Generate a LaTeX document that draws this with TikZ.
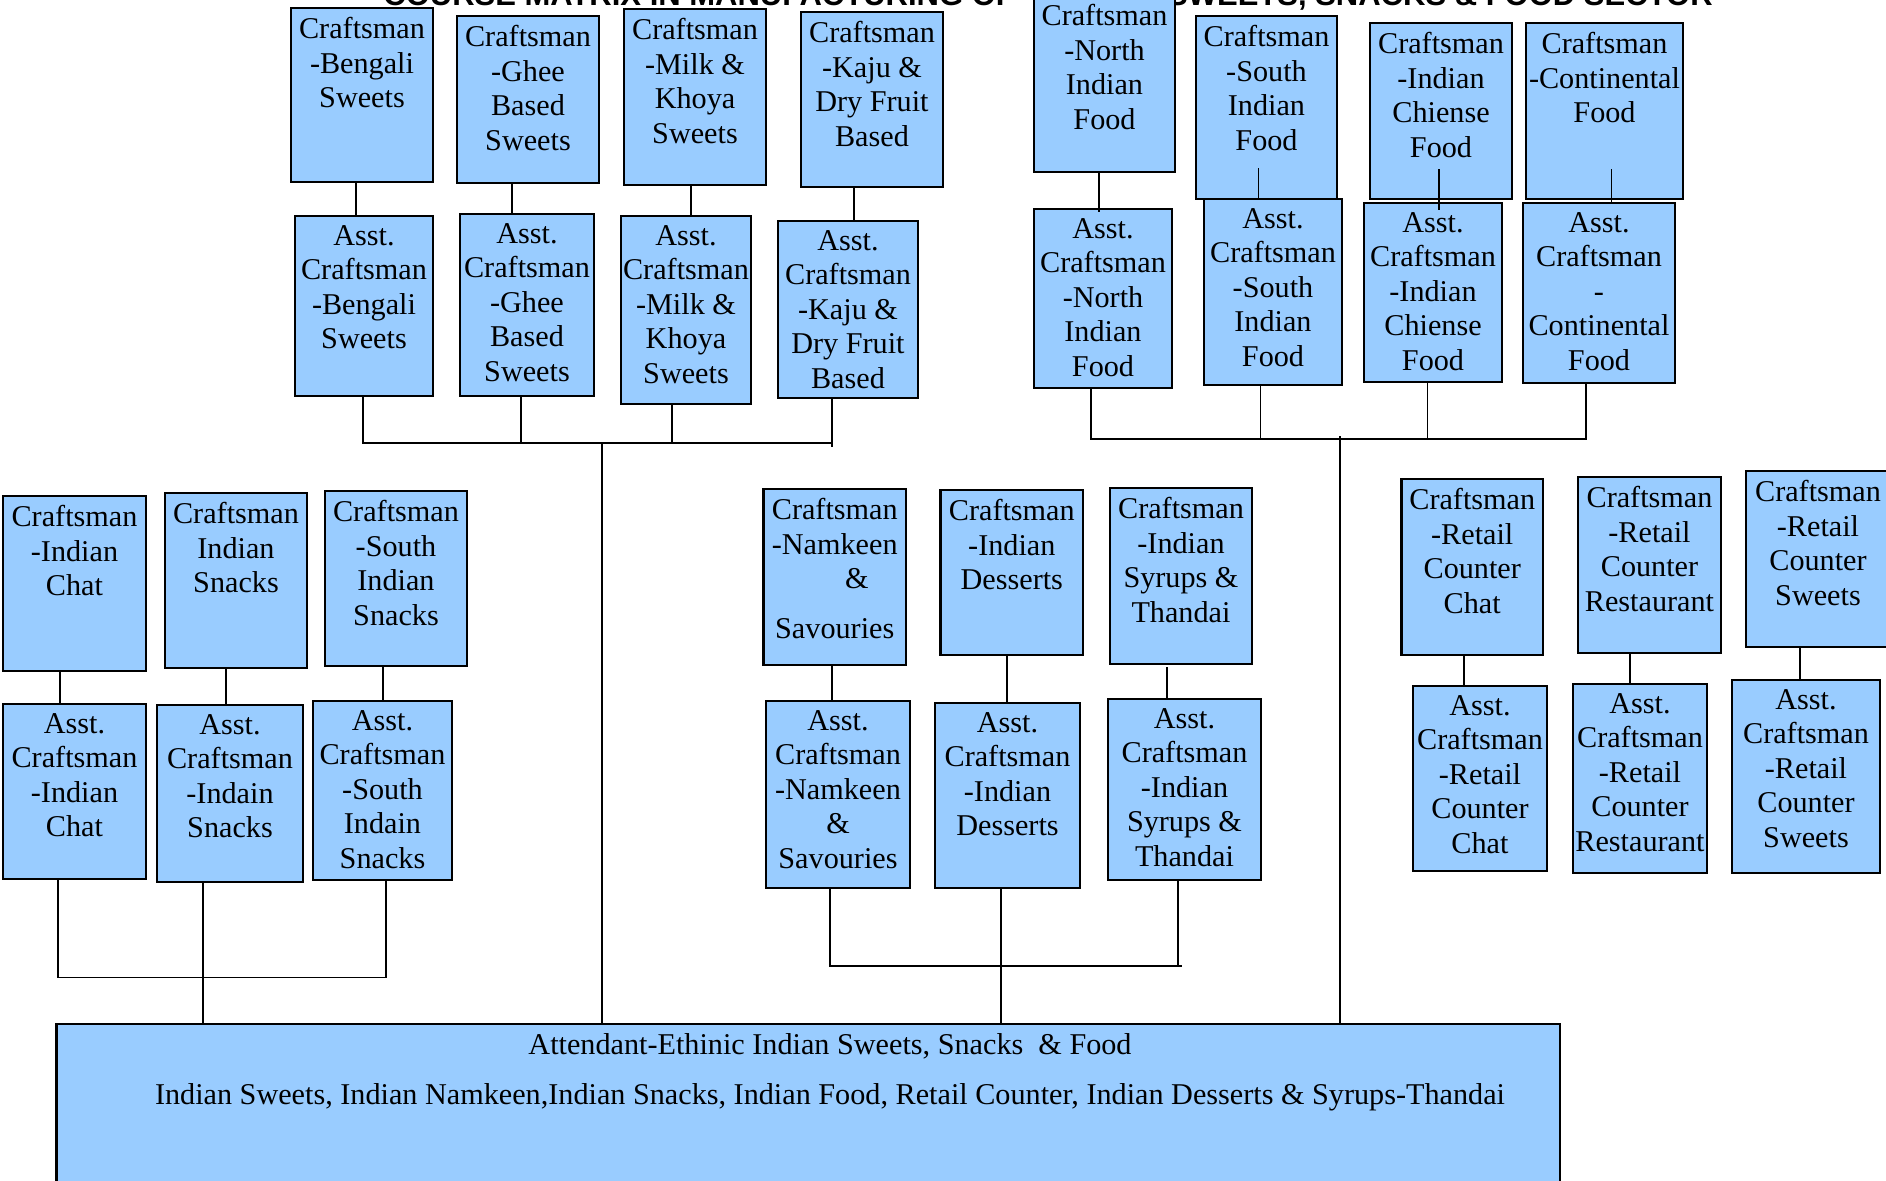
\documentclass[tikz,border=0pt]{standalone}
\usepackage{fontspec}
\setmainfont{Liberation Serif}
\newfontfamily\ttlfont{Liberation Sans}
\usetikzlibrary{fit}
\definecolor{boxblue}{RGB}{153,204,255}
\newcommand\mkbox[6]{%
  \node[bx, fit={(#2,#3) (#4,#5)}] (#1) {};
  \node[bt] (#1t) at (#1.north) {#6};
}
\begin{document}
\begin{tikzpicture}[x=0.5pt,y=-0.5pt,
  bx/.style={draw=black, line width=1.2pt, fill=boxblue, inner sep=0pt},
  bt/.style={anchor=north, align=center, inner sep=0pt, yshift=-5pt, font=\fontsize{15.1}{17.3}\selectfont},
  cn/.style={line width=0.8pt},
  ttl/.style={inner sep=0pt, font=\ttlfont\bfseries\fontsize{15.5}{18}\selectfont},
  bigt/.style={inner sep=0pt, anchor=base, font=\fontsize{15.1}{17.3}\selectfont}]
\useasboundingbox (0,0) rectangle (1886,1181);
\fill[white] (0,0) rectangle (1886,1181);
% title (partly outside the page, as in the reference)
\node[ttl, anchor=base west] (ttlL) at (383,6) {COURSE MATRIX IN MANUFACTURING OF};
\node[ttl, anchor=base east] (ttlR) at (1713,6) {SWEETS, SNACKS \& FOOD SECTOR};
% top-left group
\mkbox{BenC}{291}{8}{433}{182}{Craftsman\\-Bengali\\Sweets}
\mkbox{GheeC}{457}{16}{599}{183}{Craftsman\\-Ghee\\Based\\Sweets}
\mkbox{MilkC}{624}{9}{766}{185}{Craftsman\\-Milk \&\\Khoya\\Sweets}
\mkbox{KajuC}{801}{12}{943}{187}{Craftsman\\-Kaju \&\\Dry Fruit\\Based}
\mkbox{BenA}{295}{216}{433}{396}{Asst.\\Craftsman\\-Bengali\\Sweets}
\mkbox{GheeA}{460}{214}{594}{396}{Asst.\\Craftsman\\-Ghee\\Based\\Sweets}
\mkbox{MilkA}{621}{216}{751}{404}{Asst.\\Craftsman\\-Milk \&\\Khoya\\Sweets}
\mkbox{KajuA}{778}{221}{918}{398}{Asst.\\Craftsman\\-Kaju \&\\Dry Fruit\\Based}
% top-right group
\mkbox{NorC}{1034}{-5}{1175}{172}{Craftsman\\-North\\Indian\\Food}
\mkbox{SouC}{1196}{16}{1337}{199}{Craftsman\\-South\\Indian\\Food}
\mkbox{ChiC}{1370}{23}{1512}{199}{Craftsman\\-Indian\\Chiense\\Food}
\mkbox{ConC}{1526}{23}{1683}{199}{Craftsman\\-Continental\\Food}
\mkbox{NorA}{1034}{209}{1172}{388}{Asst.\\Craftsman\\-North\\Indian\\Food}
\mkbox{SouA}{1204}{199}{1342}{385}{Asst.\\Craftsman\\-South\\Indian\\Food}
\mkbox{ChiA}{1364}{203}{1502}{382}{Asst.\\Craftsman\\-Indian\\Chiense\\Food}
\mkbox{ConA}{1523}{203}{1675}{383}{Asst.\\Craftsman\\-\\Continental\\Food}
% middle-left group
\mkbox{ChatC}{3}{496}{146}{671}{Craftsman\\-Indian\\Chat}
\mkbox{SnaC}{165}{493}{307}{668}{Craftsman\\Indian\\Snacks}
\mkbox{SSnC}{325}{491}{467}{666}{Craftsman\\-South\\Indian\\Snacks}
\mkbox{ChatA}{3}{704}{146}{879}{Asst.\\Craftsman\\-Indian\\Chat}
\mkbox{SnaA}{157}{705}{303}{882}{Asst.\\Craftsman\\-Indain\\Snacks}
\mkbox{SSnA}{313}{701}{452}{880}{Asst.\\Craftsman\\-South\\Indain\\Snacks}
% middle group
\mkbox{NamC}{763.5}{489}{906}{665}{Craftsman\\-Namkeen\\\hspace*{22pt}\&\\[7.5pt]Savouries}
\mkbox{DesC}{940.6}{490}{1083}{655}{Craftsman\\-Indian\\Desserts}
\mkbox{SyrC}{1110}{488}{1252}{664}{Craftsman\\-Indian\\Syrups \&\\Thandai}
\mkbox{NamA}{766}{701}{910}{888}{Asst.\\Craftsman\\-Namkeen\\\&\\Savouries}
\mkbox{DesA}{935}{703}{1080}{888}{Asst.\\Craftsman\\-Indian\\Desserts}
\mkbox{SyrA}{1108}{699}{1261}{880}{Asst.\\Craftsman\\-Indian\\Syrups \&\\Thandai}
% right group
\mkbox{RChC}{1401.5}{479}{1543}{655}{Craftsman\\-Retail\\Counter\\Chat}
\mkbox{RReC}{1578}{477}{1721}{653}{Craftsman\\-Retail\\Counter\\Restaurant}
\mkbox{RSwC}{1746}{471}{1890}{647}{Craftsman\\-Retail\\Counter\\Sweets}
\mkbox{RChA}{1413}{686}{1547}{871}{Asst.\\Craftsman\\-Retail\\Counter\\Chat}
\mkbox{RReA}{1573}{684}{1707}{873}{Asst.\\Craftsman\\-Retail\\Counter\\Restaurant}
\mkbox{RSwA}{1732}{680}{1880}{873}{Asst.\\Craftsman\\-Retail\\Counter\\Sweets}
% big box
\node[bx, fit={(56.5,1024) (1560,1205)}] (big) {};
\node[bigt] (bigt1) at (830,1054) {Attendant-Ethinic Indian Sweets, Snacks\ \ \& Food};
\node[bigt] (bigt2) at (830,1104) {Indian Sweets, Indian Namkeen,Indian Snacks, Indian Food, Retail Counter, Indian Desserts \& Syrups-Thandai};
% connectors craftsman -> asst
\draw[cn] (BenC.south -| 356,0) -- (BenA.north -| 356,0);
\draw[cn] (GheeC.south -| 512,0) -- (GheeA.north -| 512,0);
\draw[cn] (MilkC.south -| 691,0) -- (MilkA.north -| 691,0);
\draw[cn] (KajuC.south -| 854,0) -- (KajuA.north -| 854,0);
\draw[cn] (NorC.south -| 1099,0) -- ([yshift=-2pt]NorA.north -| 1099,0);
\draw[cn] ([yshift=16pt]SouC.south -| 1258.5,0) -- (SouA.north -| 1258.5,0);
\draw[cn] ([yshift=15.5pt]ChiC.south -| 1439,0) -- ([yshift=-4pt]ChiA.north -| 1439,0);
\draw[cn] ([yshift=15.5pt]ConC.south -| 1611.5,0) -- (ConA.north -| 1611.5,0);
\draw[cn] (ChatC.south -| 60,0) -- (ChatA.north -| 60,0);
\draw[cn] (SnaC.south -| 226,0) -- (SnaA.north -| 226,0);
\draw[cn] (SSnC.south -| 383,0) -- (SSnA.north -| 383,0);
\draw[cn] (NamC.south -| 832,0) -- (NamA.north -| 832,0);
\draw[cn] (DesC.south -| 1007,0) -- (DesA.north -| 1007,0);
\draw[cn] ([yshift=-1pt]SyrC.south -| 1167,0) -- (SyrA.north -| 1167,0);
\draw[cn] (RChC.south -| 1464,0) -- (RChA.north -| 1464,0);
\draw[cn] (RReC.south -| 1630,0) -- (RReA.north -| 1630,0);
\draw[cn] (RSwC.south -| 1800,0) -- (RSwA.north -| 1800,0);
% top-left bus and trunk
\coordinate (busL) at (602,443);
\draw[cn] (BenA.south -| 363,0) -- (363,0 |- busL) -- (832,0 |- busL) -- (KajuA.south -| 832,0);
\draw[cn] (832,0 |- busL) -- (832,447);
\draw[cn] (GheeA.south -| 521,0) -- (521,0 |- busL);
\draw[cn] (MilkA.south -| 672,0) -- (672,0 |- busL);
\draw[cn] (busL) -- (big.north -| busL);
% top-right bus and trunk
\coordinate (busR) at (1340,439);
\draw[cn] (NorA.south -| 1091,0) -- (1091,0 |- busR) -- (1586,0 |- busR) -- (ConA.south -| 1586,0);
\draw[cn] (SouA.south -| 1260.5,0) -- (1260.5,0 |- busR);
\draw[cn] (ChiA.south -| 1427.5,0) -- (1427.5,0 |- busR);
\draw[cn] (1340,436.5) -- (big.north -| busR);
% middle-left bus and trunk
\coordinate (busML) at (203,977.5);
\draw[cn] (ChatA.south -| 58,0) -- (58,0 |- busML) -- (386,0 |- busML) -- (SSnA.south -| 386,0);
\draw[cn] (SnaA.south -| 203,0) -- (big.north -| 203,0);
% middle bus and trunk
\coordinate (busM) at (1001,966);
\draw[cn] (NamA.south -| 830,0) -- (830,0 |- busM) -- (1182,0 |- busM);
\draw[cn] (SyrA.south -| 1178,0) -- (1178,0 |- busM);
\draw[cn] (DesA.south -| 1001,0) -- (big.north -| 1001,0);
\end{tikzpicture}
\end{document}
